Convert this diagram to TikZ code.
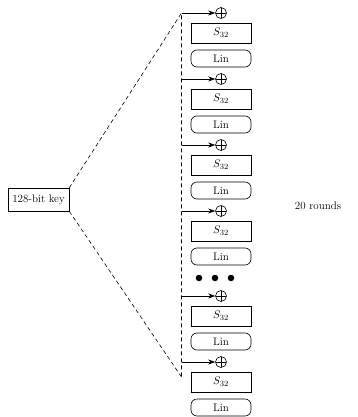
\documentclass[tikz,border=0pt]{standalone}
\usetikzlibrary{arrows.meta}
\begin{document}
\begin{tikzpicture}[x=1pt,y=-1pt, line width=0.6pt,
  every node/.style={font=\fontsize{11}{13}\selectfont},
  sbox/.style={draw, minimum width=60pt, minimum height=20pt, inner sep=0pt},
  linbox/.style={draw, rounded corners=6pt, minimum width=60pt, minimum height=17pt, inner sep=0pt},
  xorn/.style={draw, circle, minimum size=11pt, inner sep=0pt,
    path picture={\draw (path picture bounding box.north) -- (path picture bounding box.south)
                        (path picture bounding box.west) -- (path picture bounding box.east);}},
  keybox/.style={draw, minimum width=61pt, minimum height=23pt, inner sep=0pt},
  feed/.style={-{Stealth[length=7pt,width=5pt]}},
  dot/.style={circle, fill, minimum size=6.5pt, inner sep=0pt},
  keyline/.style={dash pattern=on 4pt off 3pt}
]
\useasboundingbox (0,0) rectangle (358,417);
\node[keybox] (key) at (38.5,199.5) {128-bit key};
\coordinate (top) at (181.5,13);
\coordinate (bot) at (181.5,377);
\foreach \i/\y in {1/13,2/79,3/145,4/211,5/296,6/362}{
  \node[xorn] (x\i) at (221,\y) {};
  \node[sbox] (s\i) at (221,\y+20) {$S_{32}$};
  \node[linbox] (l\i) at (221,\y+45.5) {Lin};
  \coordinate (c\i) at (181.5,\y);
  \draw[feed] (c\i) -- (x\i);
}
\node[dot] (d1) at (199,278) {};
\node[dot] (d2) at (215,278) {};
\node[dot] (d3) at (231,278) {};
\draw[keyline] (key.north east) -- (top) -- (bot);
\draw[keyline] (key.south east) -- (bot);
\node (rounds) at (318,206) {20 rounds};
\end{tikzpicture}
\end{document}
